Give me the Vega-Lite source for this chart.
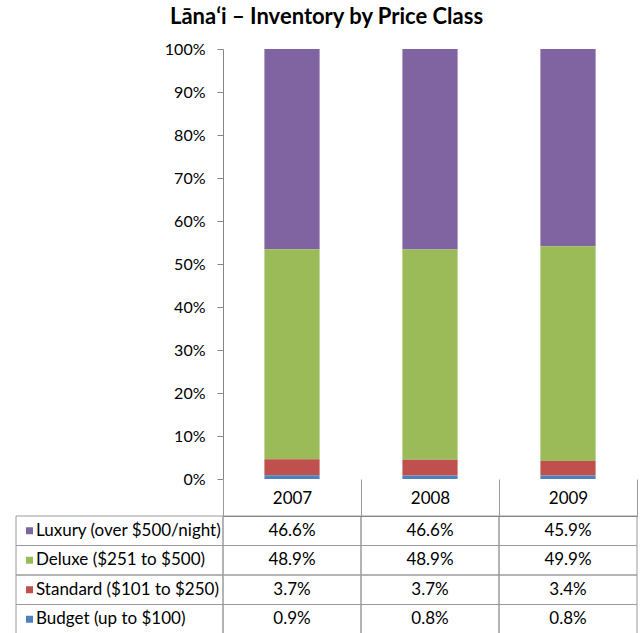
{
  "$schema": "https://vega.github.io/schema/vega-lite/v6.json",
  "padding": {"left": 15, "top": 6, "right": 5, "bottom": 0},
  "background": "white",
  "title": {"text": "Lānaʻi – Inventory by Price Class", "font": "Lato", "fontSize": 22, "fontWeight": "bold", "color": "black", "anchor": "middle", "offset": 12},
  "config": {
    "view": {"stroke": null},
    "font": "Lato",
    "axis": {"labelFont": "Lato", "labelFontSize": 16, "labelColor": "black", "title": null, "grid": false}
  },
  "datasets": {
    "inv": [
      {"year": "2007", "cat": "Luxury (over $500/night)", "tier": 4, "share": 0.466},
      {"year": "2007", "cat": "Deluxe ($251 to $500)", "tier": 3, "share": 0.489},
      {"year": "2007", "cat": "Standard ($101 to $250)", "tier": 2, "share": 0.037},
      {"year": "2007", "cat": "Budget (up to $100)", "tier": 1, "share": 0.009},
      {"year": "2008", "cat": "Luxury (over $500/night)", "tier": 4, "share": 0.466},
      {"year": "2008", "cat": "Deluxe ($251 to $500)", "tier": 3, "share": 0.489},
      {"year": "2008", "cat": "Standard ($101 to $250)", "tier": 2, "share": 0.037},
      {"year": "2008", "cat": "Budget (up to $100)", "tier": 1, "share": 0.008},
      {"year": "2009", "cat": "Luxury (over $500/night)", "tier": 4, "share": 0.459},
      {"year": "2009", "cat": "Deluxe ($251 to $500)", "tier": 3, "share": 0.499},
      {"year": "2009", "cat": "Standard ($101 to $250)", "tier": 2, "share": 0.034},
      {"year": "2009", "cat": "Budget (up to $100)", "tier": 1, "share": 0.008}
    ],
    "cats": [
      {"cat": "Luxury (over $500/night)"},
      {"cat": "Deluxe ($251 to $500)"},
      {"cat": "Standard ($101 to $250)"},
      {"cat": "Budget (up to $100)"}
    ]
  },
  "columns": 2,
  "spacing": {"row": 37, "column": 0},
  "bounds": "flush",
  "concat": [
    {
      "width": 207, "height": 430,
      "data": {"values": []},
      "mark": "point"
    },
    {
      "width": 414, "height": 430,
      "data": {"name": "inv"},
      "mark": {"type": "bar"},
      "encoding": {
        "x": {"field": "year", "type": "nominal", "scale": {"paddingInner": 0.6, "paddingOuter": 0.3}, "axis": null},
        "y": {"field": "share", "type": "quantitative", "stack": "normalize",
              "axis": {"values": [0, 0.1, 0.2, 0.3, 0.4, 0.5, 0.6, 0.7, 0.8, 0.9, 1], "format": ".0%", "domainColor": "#868686", "tickColor": "#868686", "tickSize": 6, "labelPadding": 12}},
        "order": {"field": "tier", "type": "quantitative", "sort": "ascending"},
        "color": {"field": "cat", "type": "nominal",
                  "scale": {"domain": ["Budget (up to $100)", "Standard ($101 to $250)", "Deluxe ($251 to $500)", "Luxury (over $500/night)"], "range": ["#4F81BD", "#C0504D", "#9BBB59", "#8064A2"]},
                  "legend": null}
      }
    },
    {
      "width": 207, "height": 118,
      "data": {"name": "cats"},
      "encoding": {
        "y": {"field": "cat", "type": "nominal", "scale": {"domain": ["Luxury (over $500/night)", "Deluxe ($251 to $500)", "Standard ($101 to $250)", "Budget (up to $100)"], "paddingInner": 0, "paddingOuter": 0}, "axis": null}
      },
      "layer": [
        {"mark": {"type": "rect", "filled": false, "stroke": "#9a9a9a", "strokeWidth": 1}},
        {"mark": {"type": "point", "shape": "square", "filled": true, "size": 49, "opacity": 1, "x": 13.5},
         "encoding": {"color": {"field": "cat", "type": "nominal", "scale": {"domain": ["Budget (up to $100)", "Standard ($101 to $250)", "Deluxe ($251 to $500)", "Luxury (over $500/night)"], "range": ["#4F81BD", "#C0504D", "#9BBB59", "#8064A2"]}, "legend": null}}},
        {"mark": {"type": "text", "align": "left", "baseline": "middle", "x": 20, "fontSize": 17, "font": "Lato", "color": "black"},
         "encoding": {"text": {"field": "cat"}}}
      ]
    },
    {
      "width": 414, "height": 118,
      "data": {"name": "inv"},
      "encoding": {
        "x": {"field": "year", "type": "nominal", "scale": {"paddingInner": 0, "paddingOuter": 0},
              "axis": {"orient": "top", "domainColor": "#868686", "tickColor": "#9a9a9a", "tickSize": 37, "tickBand": "extent", "labelPadding": -28, "labelAngle": 0, "labelFontSize": 17}},
        "y": {"field": "cat", "type": "nominal", "scale": {"domain": ["Luxury (over $500/night)", "Deluxe ($251 to $500)", "Standard ($101 to $250)", "Budget (up to $100)"], "paddingInner": 0, "paddingOuter": 0}, "axis": null}
      },
      "layer": [
        {"mark": {"type": "rect", "filled": false, "stroke": "#9a9a9a", "strokeWidth": 1}},
        {"mark": {"type": "text", "fontSize": 17, "font": "Lato", "color": "black", "baseline": "middle"},
         "encoding": {"text": {"field": "share", "type": "quantitative", "format": ".1%"}}}
      ]
    }
  ]
}
